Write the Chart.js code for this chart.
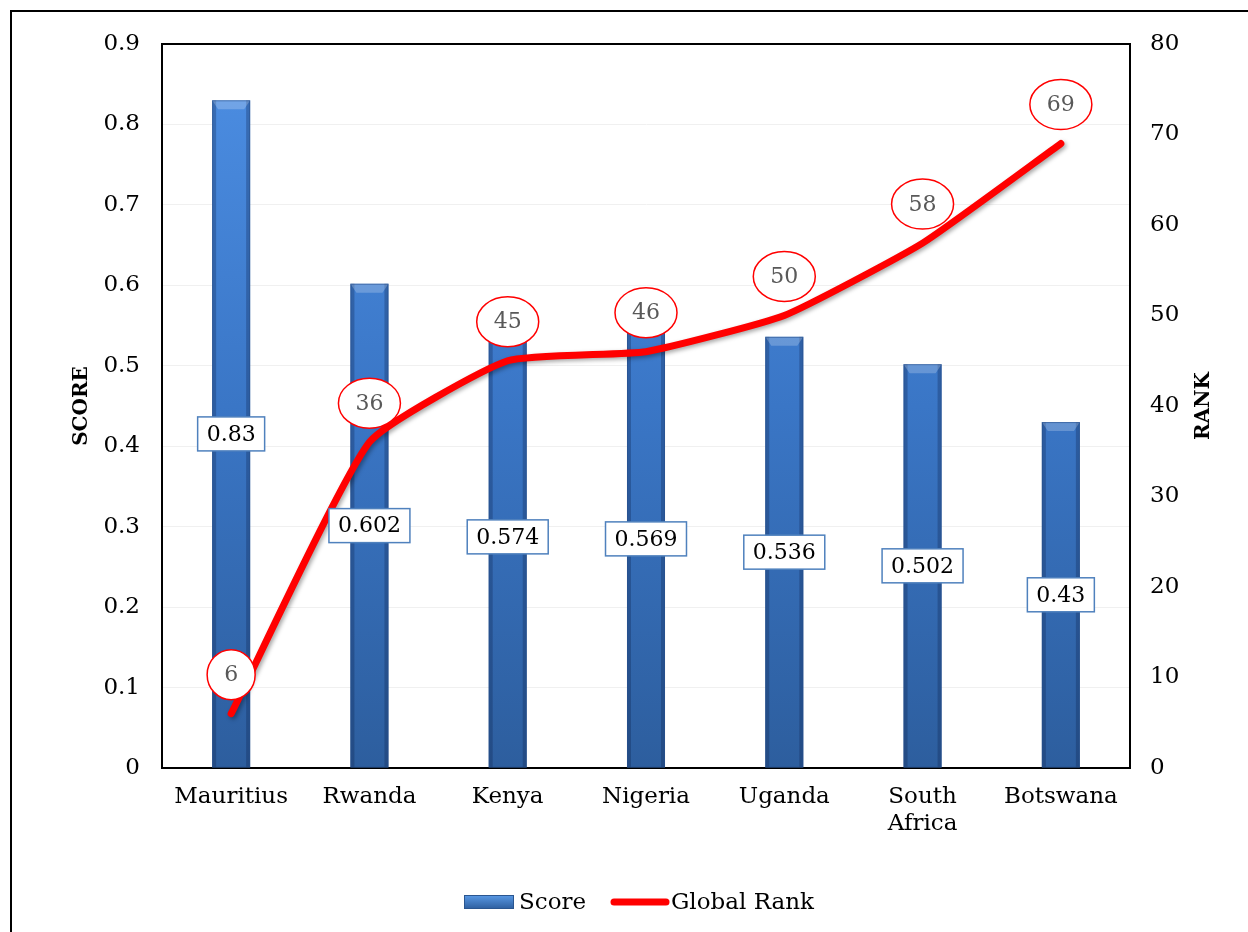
<!DOCTYPE html>
<html>
<head>
<meta charset="utf-8">
<script src="https://cdn.jsdelivr.net/npm/chart.js@4.4.1/dist/chart.umd.min.js"></script>
<style>
  html, body { margin:0; background:#fff; overflow:hidden; }
  #wrap { position:relative; width:1248px; height:932px; }
  #frame { position:absolute; left:10px; top:10px; width:1260px; height:940px; border-left:2px solid #000; border-top:2px solid #000; }
  #chart { position:absolute; left:0; top:0; }
</style>
</head>
<body>
<div id="wrap">
  <div id="frame"></div>
  <canvas id="chart" width="1248" height="932"></canvas>
</div>
<script>
const countries = ['Mauritius', 'Rwanda', 'Kenya', 'Nigeria', 'Uganda', ['South', 'Africa'], 'Botswana'];
const scores = [0.83, 0.602, 0.574, 0.569, 0.536, 0.502, 0.43];
const ranks = [6, 36, 45, 46, 50, 58, 69];

const FONT = '"DejaVu Serif", serif';

/* ---- bar fill ---- */
function barFill(ctx) {
    const area = ctx.chart.chartArea;
    if (!area) return '#3a78c8';
    const g = ctx.chart.ctx.createLinearGradient(0, area.top, 0, area.bottom);
    g.addColorStop(0, '#4d8fe4');
    g.addColorStop(0.5, '#3a76c6');
    g.addColorStop(1, '#2d5e9e');
    return g;
}

/* ---- bevel on bars + shadow on line ---- */
const effectsPlugin = {
    id: 'effects',
    beforeDatasetDraw(chart, args) {
        if (args.index === 1) {
            const ctx = chart.ctx;
            ctx.save();
            ctx.shadowColor = 'rgba(0,0,0,0.35)';
            ctx.shadowBlur = 4;
            ctx.shadowOffsetX = 2;
            ctx.shadowOffsetY = 2;
        }
    },
    afterDatasetDraw(chart, args) {
        const ctx = chart.ctx;
        if (args.index === 1) { ctx.restore(); return; }
        if (args.index !== 0) return;
        ctx.save();
        args.meta.data.forEach(bar => {
            const l = bar.x - bar.width / 2, r = bar.x + bar.width / 2;
            const t = bar.y, b = bar.base;
            ctx.fillStyle = 'rgba(10,30,70,0.28)';
            ctx.fillRect(l, t, 4, b - t);
            ctx.fillRect(r - 4, t, 4, b - t);
            ctx.beginPath();
            ctx.moveTo(l, t); ctx.lineTo(r, t); ctx.lineTo(r - 6, t + 9); ctx.lineTo(l + 6, t + 9);
            ctx.closePath();
            ctx.fillStyle = 'rgba(255,255,255,0.22)';
            ctx.fill();
            ctx.strokeStyle = 'rgba(40,80,140,0.6)';
            ctx.lineWidth = 1;
            ctx.strokeRect(l + 0.5, t + 0.5, bar.width - 1, b - t - 1);
        });
        ctx.restore();
    }
};

/* ---- top border of plot area + right axis title ---- */
const boxPlugin = {
    id: 'box',
    beforeDatasetsDraw(chart) {
        const {ctx, chartArea: a} = chart;
        ctx.save();
        ctx.strokeStyle = '#000';
        ctx.lineWidth = 2;
        ctx.beginPath();
        ctx.moveTo(a.left - 1, a.top);
        ctx.lineTo(a.right + 1, a.top);
        ctx.stroke();

        // RANK reads bottom-to-top like SCORE
        ctx.translate(1204, (a.top + a.bottom) / 2);
        ctx.rotate(-Math.PI / 2);
        ctx.font = 'bold 20px ' + FONT;
        ctx.fillStyle = '#000';
        ctx.textAlign = 'center';
        ctx.textBaseline = 'middle';
        ctx.fillText('RANK', 0, 0);
        ctx.restore();
    }
};

/* ---- data labels ---- */
const labelPlugin = {
    id: 'labels',
    afterDatasetsDraw(chart) {
        const ctx = chart.ctx;
        ctx.save();
        ctx.font = '22px ' + FONT;
        ctx.textAlign = 'center';
        ctx.textBaseline = 'middle';

        chart.getDatasetMeta(0).data.forEach((bar, i) => {
            const txt = String(scores[i]);
            const w = ctx.measureText(txt).width + 18, h = 34;
            const cx = bar.x, cy = (bar.y + bar.base) / 2;
            ctx.fillStyle = '#fff';
            ctx.fillRect(cx - w / 2, cy - h / 2, w, h);
            ctx.strokeStyle = '#4f81bd';
            ctx.lineWidth = 1.5;
            ctx.strokeRect(cx - w / 2, cy - h / 2, w, h);
            ctx.fillStyle = '#000';
            ctx.fillText(txt, cx, cy + 1);
        });

        chart.getDatasetMeta(1).data.forEach((pt, i) => {
            const txt = String(ranks[i]);
            const rx = (ctx.measureText(txt).width + 34) / 2, ry = 25;
            const cx = pt.x, cy = pt.y - 39;
            ctx.beginPath();
            ctx.ellipse(cx, cy, rx, ry, 0, 0, Math.PI * 2);
            ctx.fillStyle = '#fff';
            ctx.fill();
            ctx.strokeStyle = '#ff0000';
            ctx.lineWidth = 1.5;
            ctx.stroke();
            ctx.fillStyle = '#595959';
            ctx.fillText(txt, cx, cy + 1);
        });
        ctx.restore();
    }
};

/* ---- legend (bottom) ---- */
const legendPlugin = {
    id: 'customLegend',
    afterDraw(chart) {
        const ctx = chart.ctx;
        const y = 902;
        ctx.save();
        const g = ctx.createLinearGradient(0, y - 7, 0, y + 7);
        g.addColorStop(0, '#5a9ae6');
        g.addColorStop(1, '#2d5e9e');
        ctx.fillStyle = g;
        ctx.fillRect(464, y - 7, 50, 14);
        ctx.strokeStyle = '#2a5690';
        ctx.lineWidth = 1;
        ctx.strokeRect(464.5, y - 6.5, 49, 13);

        ctx.strokeStyle = '#ff0000';
        ctx.lineWidth = 7;
        ctx.lineCap = 'round';
        ctx.beginPath();
        ctx.moveTo(614, y);
        ctx.lineTo(666, y);
        ctx.stroke();

        ctx.font = '23px ' + FONT;
        ctx.fillStyle = '#000';
        ctx.textBaseline = 'middle';
        ctx.textAlign = 'left';
        ctx.fillText('Score', 519, y + 1);
        ctx.fillText('Global Rank', 671, y + 1);
        ctx.restore();
    }
};

new Chart(document.getElementById('chart'), {
    data: {
        labels: countries,
        datasets: [
            {
                type: 'bar',
                label: 'Score',
                data: scores,
                yAxisID: 'y',
                backgroundColor: barFill,
                borderWidth: 0,
                barPercentage: 0.275,
                categoryPercentage: 1,
                order: 1
            },
            {
                type: 'line',
                label: 'Global Rank',
                data: ranks,
                yAxisID: 'y1',
                borderColor: '#ff0000',
                borderWidth: 7,
                borderCapStyle: 'round',
                borderJoinStyle: 'round',
                pointRadius: 0,
                tension: 0.15,
                fill: false,
                order: 0
            }
        ]
    },
    options: {
        responsive: false,
        animation: false,
        devicePixelRatio: 1,
        layout: { padding: { top: 44, left: 0, right: 0, bottom: 0 } },
        plugins: { legend: { display: false }, tooltip: { enabled: false } },
        scales: {
            x: {
                offset: true,
                grid: { display: false, drawTicks: false },
                border: { display: true, color: '#000', width: 2 },
                ticks: { color: '#000', font: { family: FONT, size: 23, lineHeight: 1.2 }, padding: 15, maxRotation: 0 },
                afterFit(s) { s.height = 164; }
            },
            y: {
                position: 'left',
                min: 0, max: 0.9,
                grid: { color: '#f0f0f0', drawTicks: false },
                border: { display: true, color: '#000', width: 2 },
                ticks: { stepSize: 0.1, color: '#000', font: { family: FONT, size: 23 }, padding: 22,
                         callback: v => String(+v.toFixed(1)) },
                title: { display: true, text: 'SCORE', color: '#000', font: { family: FONT, size: 20, weight: 'bold' }, padding: { top: 70 } },
                afterFit(s) { s.width = 162; }
            },
            y1: {
                position: 'right',
                min: 0, max: 80,
                grid: { display: false, drawTicks: false },
                border: { display: true, color: '#000', width: 2 },
                ticks: { stepSize: 10, color: '#000', font: { family: FONT, size: 23 }, padding: 20 },
                afterFit(s) { s.width = 118; }
            }
        }
    },
    plugins: [effectsPlugin, boxPlugin, labelPlugin, legendPlugin]
});
</script>
</body>
</html>
